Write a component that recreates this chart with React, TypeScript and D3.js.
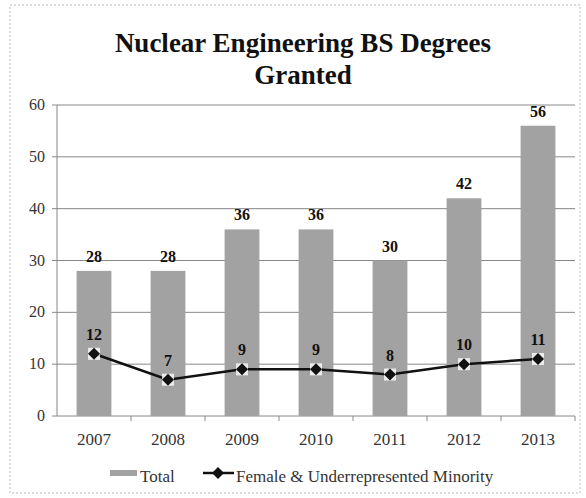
import React from "react";
import * as d3 from "d3";

const years = ["2007", "2008", "2009", "2010", "2011", "2012", "2013"];
const totalValues = [28, 28, 36, 36, 30, 42, 56];
const minorityValues = [12, 7, 9, 9, 8, 10, 11];
const yTicks = [0, 10, 20, 30, 40, 50, 60];

const W = 586, H = 498;
const M = { left: 57, right: 11, top: 105, bottom: 82 };
const font = "Liberation Serif, DejaVu Serif, serif";

export default function App() {
  const x = d3.scaleBand().domain(years).range([M.left, W - M.right]).paddingInner(0.53).paddingOuter(0.265);
  const y = d3.scaleLinear().domain([0, 60]).range([H - M.bottom, M.top]);
  const cx = (d: string) => (x(d) as number) + x.bandwidth() / 2;
  const line = d3.line<number>().x((_, i) => cx(years[i])).y(v => y(v));
  const step = x.step();
  return (
    <svg width={W} height={H} style={{ position: "absolute", left: 0, top: 0, background: "#fff", fontFamily: font }}>
      <rect x={10} y={5} width={570} height={488} fill="#fff" stroke="#bbb" strokeDasharray="2,2" />
      <text x={303} y={52} textAnchor="middle" fontWeight="bold" fontSize={27} fill="#111">Nuclear Engineering BS Degrees</text>
      <text x={303} y={84} textAnchor="middle" fontWeight="bold" fontSize={27} fill="#111">Granted</text>
      {yTicks.map(t => (
        <g key={t}>
          <line x1={M.left - 5} x2={W - M.right} y1={y(t)} y2={y(t)} stroke="#888" strokeWidth={1} />
          <text x={M.left - 12} y={y(t) + 5} textAnchor="end" fontSize={16} fill="#333">{t}</text>
        </g>
      ))}
      <line x1={M.left} x2={M.left} y1={M.top} y2={y(0)} stroke="#888" />
      {years.map((yr, i) => (
        <line key={yr} x1={M.left + step * (i + 1)} x2={M.left + step * (i + 1)} y1={y(0)} y2={y(0) + 5} stroke="#888" />
      ))}
      {years.map((yr, i) => (
        <g key={yr}>
          <rect x={x(yr)} y={y(totalValues[i])} width={x.bandwidth()} height={y(0) - y(totalValues[i])} fill="#a2a2a2" />
          <text x={cx(yr)} y={y(totalValues[i]) - 9} textAnchor="middle" fontWeight="bold" fontSize={16} fill="#111">{totalValues[i]}</text>
          <text x={cx(yr)} y={y(0) + 29} textAnchor="middle" fontSize={17} fill="#333">{yr}</text>
        </g>
      ))}
      <path d={line(minorityValues) || ""} fill="none" stroke="#111" strokeWidth={2.5} />
      {years.map((yr, i) => (
        <g key={yr}>
          <rect x={cx(yr) - 6} y={y(minorityValues[i]) - 6} width={12} height={12} fill="#fff" opacity={0.8} />
          <path d={`M${cx(yr)},${y(minorityValues[i]) - 6} l6,6 l-6,6 l-6,-6 z`} fill="#111" />
          <text x={cx(yr)} y={y(minorityValues[i]) - 14} textAnchor="middle" fontWeight="bold" fontSize={16} fill="#111">{minorityValues[i]}</text>
        </g>
      ))}
      <rect x={110} y={470} width={27} height={6} fill="#a2a2a2" />
      <text x={140} y={482} fontSize={17} fill="#333">Total</text>
      <line x1={203} x2={234} y1={473} y2={473} stroke="#111" strokeWidth={2.5} />
      <path d={`M218,467 l6,6 l-6,6 l-6,-6 z`} fill="#111" />
      <text x={236} y={482} fontSize={17} fill="#333">Female &amp; Underrepresented Minority</text>
    </svg>
  );
}
